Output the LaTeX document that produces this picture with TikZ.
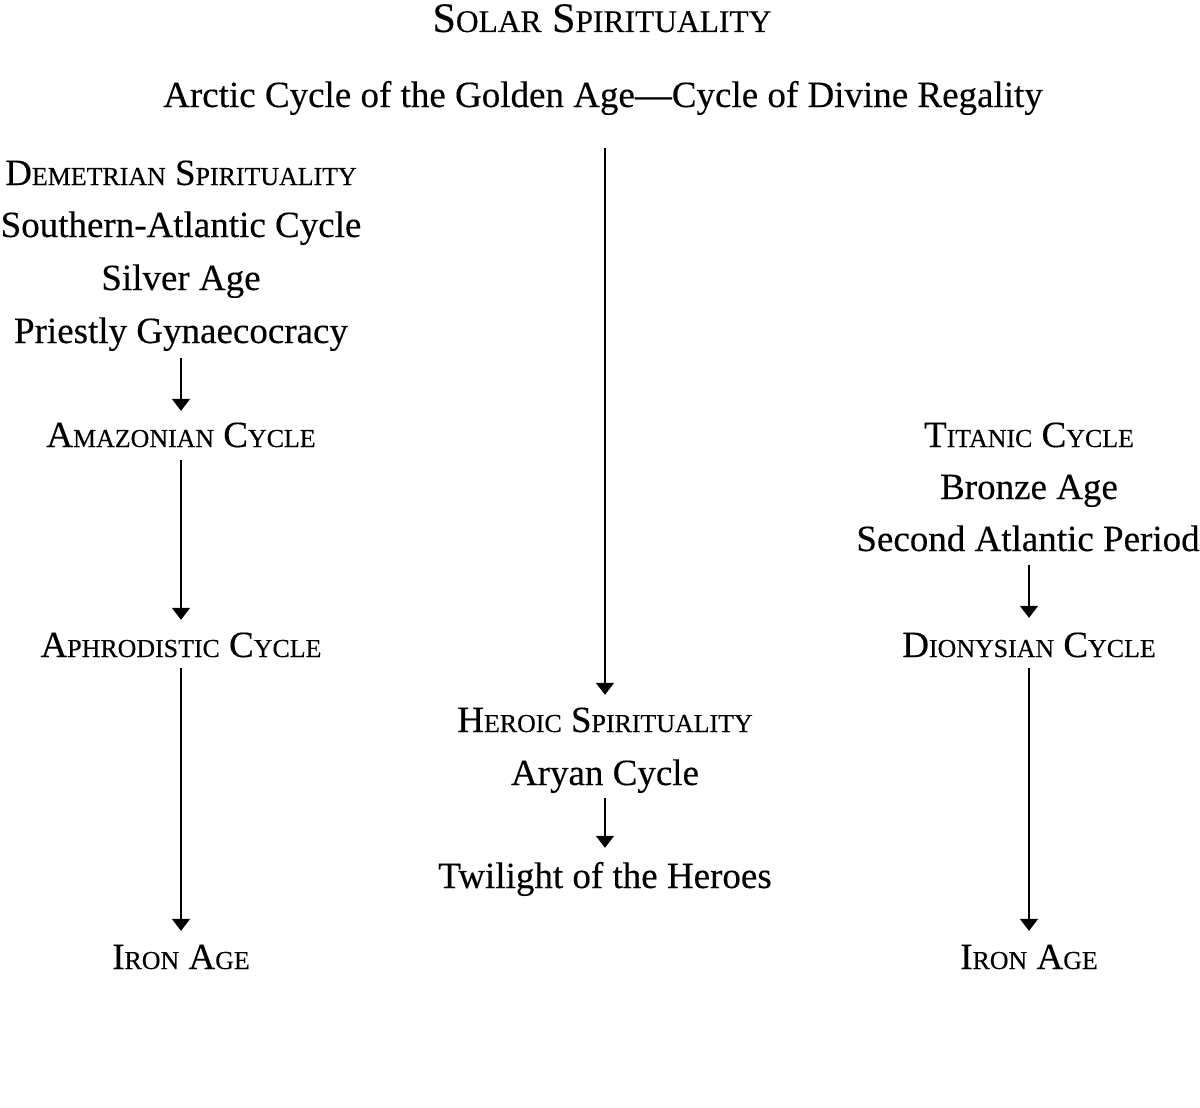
\documentclass[tikz,border=0pt]{standalone}
\usepackage{fontspec}
\usepackage{graphicx}
\setmainfont{Liberation Serif}
\newfontface\heavyserif{Liberation Serif}[FakeBold=0.3,Ligatures=TeX]
\usetikzlibrary{arrows.meta}
\newcommand\smcap[2][0.7]{\scalebox{#1}{#2}}
\tikzset{
  lbl/.style={anchor=base, inner sep=0pt, text height=24pt, text depth=0pt, font=\heavyserif\fontsize{37}{40}\selectfont},
  sclbl/.style={lbl},
  ttl/.style={lbl, font=\heavyserif\fontsize{42}{45}\selectfont},
  arr/.style={line width=1.8pt, -{Triangle[width=18pt,length=12pt]}}
}
\begin{document}
\begin{tikzpicture}[x=1pt,y=-1pt]
\useasboundingbox (0,0) rectangle (1200,1108);
% top
\node[ttl] (solar) at (602,32) {S\smcap[0.75]{OLAR} S\smcap[0.75]{PIRITUALITY}};
\node[lbl] (arctic) at (603,107) {Arctic Cycle of the Golden Age—Cycle of Divine Regality};
% left column
\node[sclbl] (deme) at (181,185) {D\smcap{EMETRIAN} S\smcap{PIRITUALITY}};
\node[lbl] (south) at (181,237) {Southern-Atlantic Cycle};
\node[lbl] (silver) at (181,290) {Silver Age};
\node[lbl] (prie) at (181,343) {Priestly Gynaecocracy};
\node[sclbl] (amaz) at (181,447) {A\smcap{MAZONIAN} C\smcap{YCLE}};
\node[sclbl] (aphr) at (181,657) {A\smcap{PHRODISTIC} C\smcap{YCLE}};
\node[sclbl] (ironl) at (181,969) {I\smcap{RON} A\smcap{GE}};
% centre column
\node[sclbl] (hero) at (605,732) {H\smcap{EROIC} S\smcap{PIRITUALITY}};
\node[lbl] (aryan) at (605,785) {Aryan Cycle};
\node[lbl] (twil) at (605,888) {Twilight of the Heroes};
% right column
\node[sclbl] (tita) at (1029,447) {T\smcap{ITANIC} C\smcap{YCLE}};
\node[lbl] (bron) at (1029,499) {Bronze Age};
\node[lbl] (second) at (1028,551) {Second Atlantic Period};
\node[sclbl] (dion) at (1029,657) {D\smcap{IONYSIAN} C\smcap{YCLE}};
\node[sclbl] (ironr) at (1029,969) {I\smcap{RON} A\smcap{GE}};
% arrows
\draw[arr, shorten <=15pt, shorten >=12pt] (prie.south) -- (amaz.north);
\draw[arr, shorten <=13pt, shorten >=13pt] (amaz.south) -- (aphr.north);
\draw[arr, shorten <=11pt, shorten >=14pt] (aphr.south) -- (ironl.north);
\draw[arr, shorten <=41pt, shorten >=13pt] (arctic.south -| hero.north) -- (hero.north);
\draw[arr, shorten <=13pt, shorten >=16pt] (aryan.south) -- (twil.north);
\draw[arr, shorten <=14pt, shorten >=15pt] (second.south -| dion.north) -- (dion.north);
\draw[arr, shorten <=11pt, shorten >=14pt] (dion.south) -- (ironr.north);
\end{tikzpicture}
\end{document}
